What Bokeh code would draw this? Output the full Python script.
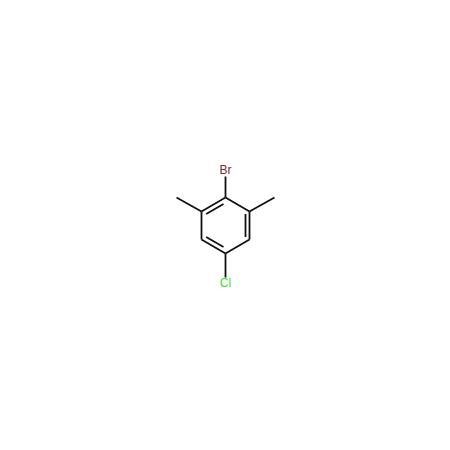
from bokeh.plotting import figure
from bokeh.models import Range1d, ColumnDataSource
from bokeh.core.properties import value
from bokeh.embed import file_html
from bokeh.resources import INLINE

# Bond end points
bond_x0 = [225, 249, 249, 225, 201, 201, 201, 249, 225, 225, 205.7, 245, 205.7]
bond_y0 = [197, 211, 239, 253, 239, 211, 211, 211, 197, 253, 213.5, 213.5, 236.5]
bond_x1 = [249, 249, 225, 201, 201, 225, 176, 274, 225, 225, 223, 245, 223]
bond_y1 = [211, 239, 253, 239, 211, 197, 197, 197, 176, 277, 203.5, 236.5, 246.5]

label_text = ["Br", "Cl"]
label_x = [225, 225]
label_y = [169.8, 282.8]
label_color = ["#7a2a30", "#2fe02f"]

p = figure(width=434, height=434, output_backend="svg", toolbar_location=None,
           x_range=Range1d(0, 434), y_range=Range1d(434, 0),
           min_border=0, outline_line_color=None, background_fill_color="white")
p.axis.visible = False
p.grid.visible = False

p.segment(bond_x0, bond_y0, bond_x1, bond_y1, line_color="#111111", line_width=1.8)

src = ColumnDataSource(dict(x=label_x, y=label_y, t=label_text, c=label_color))
p.text("x", "y", text="t", source=src, text_color="c", text_align="center",
       text_baseline="middle", text_font=value("Liberation Sans"), text_font_size="12px")

open("out.html", "w").write(file_html(p, INLINE))
